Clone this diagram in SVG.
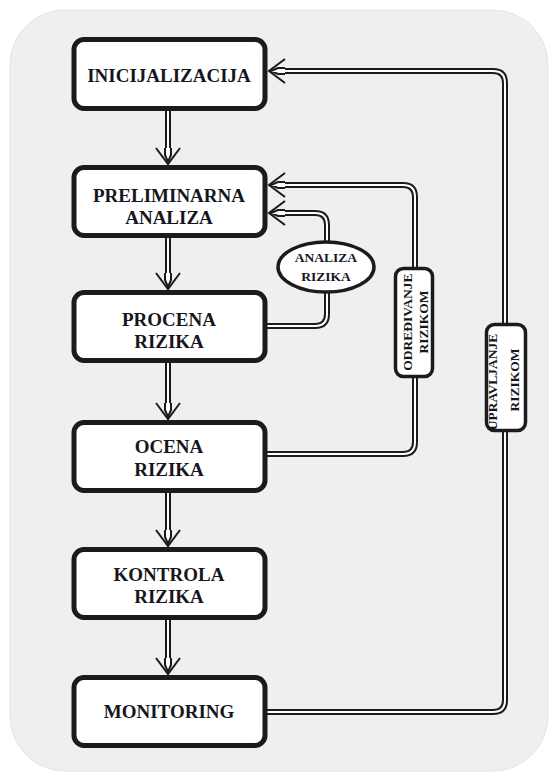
<svg xmlns="http://www.w3.org/2000/svg" xmlns:xlink="http://www.w3.org/1999/xlink" width="550" height="773" viewBox="0 0 550 773">
  <style>
    .box { fill: #ffffff; stroke: #1b1b1b; stroke-width: 5; }
    .tag { fill: #ffffff; stroke: #1b1b1b; stroke-width: 3.5; }
    .lbl { font-family: "Liberation Serif", "Times New Roman", serif; font-weight: bold; font-size: 19px; fill: #161620; text-anchor: middle; }
    .sm { font-family: "Liberation Serif", "Times New Roman", serif; font-weight: bold; font-size: 13.5px; fill: #161620; text-anchor: middle; }
    .rail-o { fill: none; stroke: #1b1b1b; stroke-width: 6; }
    .rail-i { fill: none; stroke: #ffffff; stroke-width: 2; }
  </style>
  <defs>
    <!-- double-line arrowhead, pointing down, tip at origin -->
    <g id="head">
      <path d="M-12,-16 L0,0 L12,-16" fill="none" stroke="#1b1b1b" stroke-width="2"/>
      <path d="M-3,-16 L-3,-9 L0,-3 L3,-9 L3,-16 Z" fill="#ffffff" stroke="none"/>
      <path d="M-3,-16 L-3,-9 L0,-2 L3,-9 L3,-16" fill="none" stroke="#1b1b1b" stroke-width="2"/>
    </g>
  </defs>

  <!-- panel -->
  <rect x="10" y="10" width="538" height="761" rx="55" fill="#efefef" stroke="#e4e4e4" stroke-width="1"/>

  <g id="connectors">
    <!-- rails: dark outer stroke with a light core -->
    <g class="rail-o">
      <path d="M168,110 V152 M168,237 V277 M168,362 V407 M168,492 V534 M168,620 V662"/>
      <path d="M267,712 H493 Q505,712 505,700 V83 Q505,71 493,71 H283"/>
      <path d="M267,454 H403 Q415,454 415,442 V197 Q415,185 403,185 H283"/>
      <path d="M267,326 H315 Q327,326 327,314 V292"/>
      <path d="M327,242 V225 Q327,213 315,213 H283"/>
    </g>
    <g class="rail-i">
      <path d="M168,110 V152 M168,237 V277 M168,362 V407 M168,492 V534 M168,620 V662"/>
      <path d="M267,712 H493 Q505,712 505,700 V83 Q505,71 493,71 H283"/>
      <path d="M267,454 H403 Q415,454 415,442 V197 Q415,185 403,185 H283"/>
      <path d="M267,326 H315 Q327,326 327,314 V292"/>
      <path d="M327,242 V225 Q327,213 315,213 H283"/>
    </g>
    <use xlink:href="#head" transform="translate(168,164)"/>
    <use xlink:href="#head" transform="translate(168,289)"/>
    <use xlink:href="#head" transform="translate(168,419)"/>
    <use xlink:href="#head" transform="translate(168,546)"/>
    <use xlink:href="#head" transform="translate(168,674)"/>
    <use xlink:href="#head" transform="translate(269,71) rotate(90)"/>
    <use xlink:href="#head" transform="translate(269,185) rotate(90)"/>
    <use xlink:href="#head" transform="translate(269,213) rotate(90)"/>
  </g>

  <g id="inicijalizacija">
    <rect class="box" x="74" y="39.5" width="191" height="69" rx="10"/>
    <text class="lbl" x="169" y="82">INICIJALIZACIJA</text>
  </g>
  <g id="preliminarna-analiza">
    <rect class="box" x="74" y="167.5" width="191" height="68" rx="10"/>
    <text class="lbl" x="169" y="202">PRELIMINARNA</text>
    <text class="lbl" x="169" y="224">ANALIZA</text>
  </g>
  <g id="procena-rizika">
    <rect class="box" x="74" y="292.5" width="191" height="68" rx="10"/>
    <text class="lbl" x="169" y="326">PROCENA</text>
    <text class="lbl" x="169" y="348">RIZIKA</text>
  </g>
  <g id="ocena-rizika">
    <rect class="box" x="74" y="422.5" width="191" height="68" rx="10"/>
    <text class="lbl" x="169" y="453">OCENA</text>
    <text class="lbl" x="169" y="476">RIZIKA</text>
  </g>
  <g id="kontrola-rizika">
    <rect class="box" x="74" y="549.5" width="191" height="68" rx="10"/>
    <text class="lbl" x="169" y="581">KONTROLA</text>
    <text class="lbl" x="169" y="603">RIZIKA</text>
  </g>
  <g id="monitoring">
    <rect class="box" x="74" y="677.5" width="191" height="68" rx="10"/>
    <text class="lbl" x="169" y="718">MONITORING</text>
  </g>

  <g id="analiza-rizika">
    <ellipse class="tag" cx="326" cy="267" rx="48" ry="25" stroke-width="3"/>
    <text class="sm" x="326" y="262">ANALIZA</text>
    <text class="sm" x="326" y="281">RIZIKA</text>
  </g>
  <g id="odredjivanje-rizikom">
    <rect class="tag" x="395.5" y="268.5" width="37" height="108" rx="8"/>
    <text class="sm" transform="translate(412,322) rotate(-90)">ODREĐIVANJE</text>
    <text class="sm" transform="translate(428,322) rotate(-90)">RIZIKOM</text>
  </g>
  <g id="upravljanje-rizikom">
    <rect class="tag" x="486.5" y="324.5" width="39" height="106" rx="8"/>
    <text class="sm" transform="translate(497,382) rotate(-90)">UPRAVLJANJE</text>
    <text class="sm" transform="translate(519,380) rotate(-90)">RIZIKOM</text>
  </g>
</svg>
